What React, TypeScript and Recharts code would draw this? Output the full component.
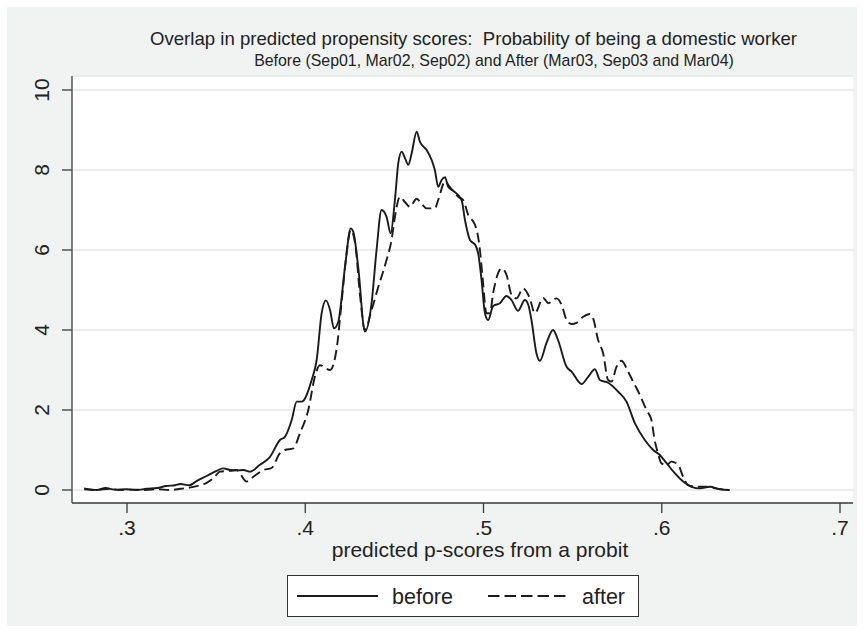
import { CartesianGrid, Legend, Line, LineChart, XAxis, YAxis } from "recharts";

// predicted propensity score (x) and kernel density (y)
const beforeX = [
  0.276, 0.283, 0.288, 0.293, 0.3, 0.305, 0.311, 0.317, 0.322, 0.327, 0.33, 0.335, 0.339, 0.3447,
  0.3503, 0.354, 0.358, 0.3615, 0.3653, 0.369, 0.3746, 0.3784, 0.3802, 0.3858, 0.3886, 0.3924,
  0.3952, 0.398, 0.4036, 0.4064, 0.4092, 0.4116, 0.4139, 0.4161, 0.4185, 0.4223, 0.4255, 0.4269,
  0.4297, 0.4335, 0.4372, 0.44, 0.4428, 0.4456, 0.4479, 0.4503, 0.4522, 0.4541, 0.456, 0.4578,
  0.4597, 0.4625, 0.4643, 0.4681, 0.4709, 0.4727, 0.4746, 0.4765, 0.4784, 0.4802, 0.483, 0.4877,
  0.4896, 0.4924, 0.4955, 0.497, 0.4989, 0.5008, 0.5026, 0.5054, 0.5092, 0.5129, 0.5157, 0.5194,
  0.5232, 0.5251, 0.5269, 0.5297, 0.5316, 0.5353, 0.539, 0.5418, 0.5466, 0.5494, 0.555, 0.5587,
  0.5625, 0.5653, 0.5699, 0.5755, 0.5802, 0.5849, 0.5905, 0.5952, 0.5989, 0.6027, 0.6073, 0.612,
  0.6167, 0.6214, 0.627, 0.6326, 0.638,
];
const beforeY = [
  0.04, 0.0, 0.05, 0.01, 0.02, 0.0, 0.03, 0.05, 0.1, 0.12, 0.15, 0.12, 0.22, 0.35,
  0.48, 0.54, 0.5, 0.49, 0.5, 0.46, 0.63, 0.75, 0.83, 1.25, 1.33, 1.75,
  2.21, 2.21, 2.75, 3.25, 4.42, 4.74, 4.5, 4.04, 4.2, 5.58, 6.54, 6.46,
  5.58, 3.96, 4.67, 6.0, 7.0, 6.83, 6.42, 7.25, 8.17, 8.46, 8.29, 8.13,
  8.42, 8.96, 8.71, 8.5, 8.25, 8.0, 7.58, 7.75, 7.82, 7.58, 7.48, 7.25,
  6.75, 6.25, 6.12, 5.92, 5.25, 4.42, 4.25, 4.6, 4.67, 4.85, 4.75, 4.48,
  4.75, 4.63, 4.25, 3.42, 3.23, 3.67, 4.0, 3.75, 3.08, 2.96, 2.65, 2.83,
  3.02, 2.75, 2.68, 2.46, 2.21, 1.67, 1.25, 1.0, 0.875, 0.67, 0.42, 0.21,
  0.08, 0.04, 0.08, 0.02, 0.0,
];
const afterX = [
  0.276, 0.283, 0.29, 0.296, 0.303, 0.31, 0.317, 0.324, 0.33, 0.335, 0.341, 0.3447, 0.3484, 0.3522,
  0.3578, 0.3615, 0.3671, 0.3709, 0.3765, 0.3811, 0.3858, 0.3886, 0.3933, 0.397, 0.4017, 0.4054,
  0.4082, 0.4139, 0.4175, 0.4204, 0.4232, 0.4255, 0.428, 0.4306, 0.4335, 0.4372, 0.441, 0.4456,
  0.4484, 0.4503, 0.4531, 0.4559, 0.4587, 0.4625, 0.4653, 0.4681, 0.4727, 0.4746, 0.4784, 0.4811,
  0.4858, 0.4886, 0.4914, 0.4952, 0.4966, 0.498, 0.4995, 0.5017, 0.5036, 0.5054, 0.5101, 0.5129,
  0.5157, 0.5185, 0.5222, 0.526, 0.5288, 0.5335, 0.5363, 0.541, 0.5438, 0.5466, 0.5494, 0.5522,
  0.5559, 0.5597, 0.5615, 0.5643, 0.5671, 0.5699, 0.5718, 0.5746, 0.5774, 0.5811, 0.5839, 0.5877,
  0.5914, 0.5942, 0.596, 0.5979, 0.5998, 0.6027, 0.6054, 0.6092, 0.612, 0.6148, 0.6195, 0.625,
  0.63, 0.638,
];
const afterY = [
  0.02, 0.0, 0.03, 0.0, 0.01, 0.0, 0.02, 0.0, 0.03, 0.06, 0.12, 0.18, 0.29, 0.46,
  0.48, 0.5, 0.21, 0.33, 0.5, 0.55, 0.92, 1.0, 1.04, 1.42, 2.0, 2.83,
  3.12, 3.0, 3.5, 4.7, 5.92, 6.5, 6.17, 4.92, 4.0, 4.5, 5.08, 5.75,
  6.25, 6.83, 7.33, 7.2, 7.08, 7.28, 7.15, 7.04, 7.04, 7.25, 7.71, 7.58,
  7.33, 7.25, 6.88, 6.63, 6.42, 6.0, 5.3, 4.42, 4.42, 4.92, 5.54, 5.38,
  4.88, 4.79, 5.04, 4.79, 4.42, 4.8, 4.67, 4.79, 4.63, 4.25, 4.15, 4.18,
  4.33, 4.4, 4.29, 3.75, 3.42, 2.75, 2.71, 3.08, 3.23, 2.96, 2.71, 2.38,
  2.0, 1.75, 1.25, 0.92, 0.67, 0.62, 0.71, 0.63, 0.33, 0.12, 0.08, 0.08,
  0.04, 0.0,
];

const xTicks = [0.3, 0.4, 0.5, 0.6, 0.7];
const xTickLabels = [".3", ".4", ".5", ".6", ".7"];
const yTicks = [0, 2, 4, 6, 8, 10];
const seriesNames = ["before", "after"];
const chartTitle = "Overlap in predicted propensity scores:  Probability of being a domestic worker";
const chartSubtitle = "Before (Sep01, Mar02, Sep02) and After (Mar03, Sep03 and Mar04)";
const xAxisTitle = "predicted p-scores from a probit";

const beforeData = beforeX.map((x, i) => ({ x, y: beforeY[i] }));
const afterData = afterX.map((x, i) => ({ x, y: afterY[i] }));

const FONT = '"Liberation Sans", Arial, Helvetica, sans-serif';
const INK = "#222";
const AXIS = "#3c3c3c";
const LINE = "#1b1b1b";
const DASH = "10 5";

const XTick = ({ x, y, payload }: any) => (
  <text x={x} y={y + 20} textAnchor="middle" fontSize={21} fontFamily={FONT} fill={INK}>
    {xTickLabels[xTicks.indexOf(payload.value)]}
  </text>
);

const YTick = ({ x, y, payload }: any) => {
  const bx = x - 11;
  return (
    <text x={bx} y={y} transform={`rotate(-90 ${bx} ${y})`} textAnchor="middle" fontSize={21} fontFamily={FONT} fill={INK}>
      {payload.value}
    </text>
  );
};

const XTitle = ({ viewBox }: any) => (
  <text x={480} y={viewBox.y + 54} textAnchor="middle" fontSize={21} fontFamily={FONT} fill={INK}>
    {xAxisTitle}
  </text>
);

function LegendBox() {
  return (
    <div style={{ width: 352, height: 42, boxSizing: "border-box", border: "1.2px solid #333", background: "#fff" }}>
      <svg width={350} height={40} style={{ display: "block" }}>
        <line x1={9} x2={90} y1={20} y2={20} stroke={LINE} strokeWidth={2} />
        <text x={104} y={28} fontSize={21.5} fontFamily={FONT} fill={INK}>{seriesNames[0]}</text>
        <line x1={200} x2={281} y1={20} y2={20} stroke={LINE} strokeWidth={2} strokeDasharray="11.5 5" />
        <text x={294} y={28} fontSize={21.5} fontFamily={FONT} fill={INK}>{seriesNames[1]}</text>
      </svg>
    </div>
  );
}

export default function App() {
  return (
    <div style={{ position: "absolute", left: 0, top: 0, width: 864, height: 633, background: "#fff" }}>
      <div style={{ position: "absolute", left: 7, top: 7, width: 850, height: 619, background: "#f0f3f2" }} />
      <svg width={864} height={80} style={{ position: "absolute", left: 0, top: 0 }}>
        <text x={473.5} y={45} textAnchor="middle" fontSize={18.6} fontFamily={FONT} fill={INK} style={{ whiteSpace: "pre" }}>
          {chartTitle}
        </text>
        <text x={494} y={66} textAnchor="middle" fontSize={15.9} fontFamily={FONT} fill={INK}>
          {chartSubtitle}
        </text>
      </svg>
      <div style={{ position: "absolute", left: 0, top: 0 }}>
        <LineChart width={864} height={633} margin={{ top: 76, right: 11, bottom: 0, left: 0 }}>
          <CartesianGrid vertical={false} fill="#fff" stroke="#e6e8e8" strokeWidth={1.6} />
          <XAxis
            dataKey="x"
            type="number"
            domain={[0.26914, 0.70729]}
            allowDataOverflow
            ticks={xTicks}
            tick={<XTick />}
            tickSize={10}
            height={130}
            stroke={AXIS}
            strokeWidth={1.3}
            label={<XTitle />}
          />
          <YAxis
            type="number"
            domain={[-0.325, 10.35]}
            allowDataOverflow
            ticks={yTicks}
            tick={<YTick />}
            tickSize={10}
            width={72}
            stroke={AXIS}
            strokeWidth={1.3}
          />
          <Legend
            layout="vertical"
            align="center"
            verticalAlign="middle"
            wrapperStyle={{ position: "absolute", left: 287, top: 575, width: 352, height: 42 }}
            content={() => <LegendBox />}
          />
          <Line
            data={beforeData}
            dataKey="y"
            name={seriesNames[0]}
            type="monotone"
            stroke={LINE}
            strokeWidth={1.9}
            dot={false}
            isAnimationActive={false}
          />
          <Line
            data={afterData}
            dataKey="y"
            name={seriesNames[1]}
            type="monotone"
            stroke={LINE}
            strokeWidth={1.9}
            strokeDasharray={DASH}
            dot={false}
            isAnimationActive={false}
          />
        </LineChart>
      </div>
    </div>
  );
}
